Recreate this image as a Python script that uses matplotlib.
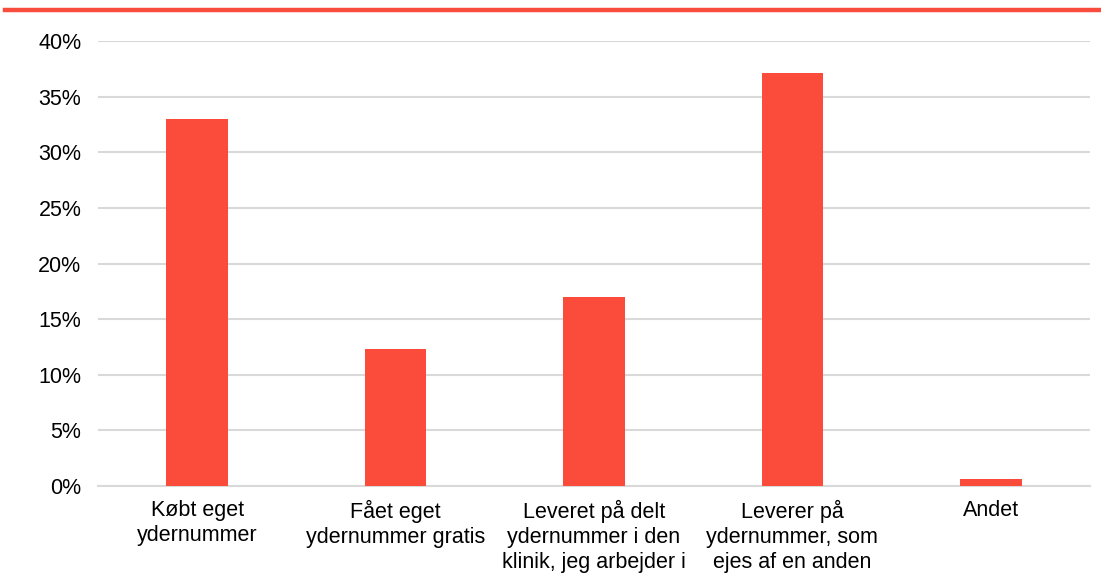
import matplotlib
matplotlib.use("Agg")
import matplotlib.pyplot as plt
from matplotlib.ticker import FuncFormatter, MultipleLocator
from matplotlib.lines import Line2D

categories = ["Købt eget\nydernummer", "Fået eget\nydernummer gratis",
              "Leveret på delt\nydernummer i den\nklinik, jeg arbejder i",
              "Leverer på\nydernummer, som\nejes af en anden", "Andet"]
values = [33.0, 12.3, 17.0, 37.1, 0.6]

plt.rcParams['font.family'] = ['Liberation Sans', 'DejaVu Sans']

fig = plt.figure(figsize=(11.01, 5.75), dpi=100)
ax = fig.add_axes([98/1101, 1-486/575, (1090-98)/1101, (486-41)/575])

x = range(len(categories))
ax.bar(x, values, width=0.31, color="#FA4B3B", zorder=3)
ax.set_xlim(-0.5, len(categories)-0.5)
ax.set_ylim(0, 40)
ax.yaxis.set_major_locator(MultipleLocator(5))
ax.yaxis.set_major_formatter(FuncFormatter(lambda v, p: f"{int(v)}%"))
ax.grid(axis='y', color="#D9D9D9", linewidth=1.5, zorder=0)
for s in ["top", "right", "left"]:
    ax.spines[s].set_visible(False)
ax.spines["bottom"].set_color("#D9D9D9")
ax.spines["bottom"].set_linewidth(1.5)
ax.tick_params(axis='both', length=0, labelsize=15.5, colors="#000000")
ax.tick_params(axis='y', pad=12)
ax.tick_params(axis='x', pad=10)
ax.set_xticks(list(x))
ax.set_xticklabels(categories, linespacing=1.26)

fig.add_artist(Line2D([5/1101, 1.0], [1-10/575, 1-10/575], color="#F94C3C", linewidth=3.2,
                      transform=fig.transFigure))

fig.savefig("out.png", dpi=100)
